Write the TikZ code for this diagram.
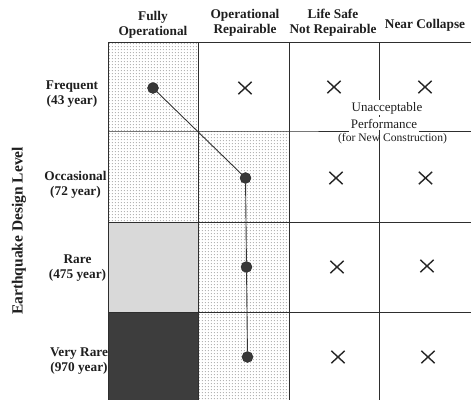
\documentclass[tikz,border=0pt]{standalone}
\usepackage{fontspec}
\setmainfont{Liberation Serif}
\usetikzlibrary{patterns,shapes.misc}
% fine stipple used for the shaded cells
\pgfdeclarepatternformonly{stippledots}{\pgfpointorigin}{\pgfqpoint{3.3pt}{3.3pt}}{\pgfqpoint{3.3pt}{3.3pt}}{%
  \pgfpathcircle{\pgfqpoint{1.65pt}{1.65pt}}{0.7pt}\pgfusepath{fill}}
\tikzset{
  gridline/.style={draw=black!82, line width=0.9pt},
  stipple/.style={fill=white, postaction={pattern=stippledots, pattern color=black!32}},
  lightcell/.style={fill=black!15},
  darkcell/.style={fill=black!76},
  hdr/.style={font=\bfseries\fontsize{13.3}{15}\selectfont, align=center, inner sep=0pt, text=black!88},
  sidelab/.style={font=\bfseries\fontsize{15.5}{17}\selectfont, inner sep=0pt, text=black!88},
  dot/.style={circle, fill=black!78, draw=black!85, minimum size=11pt, inner sep=0pt},
  link/.style={draw=black!80, line width=0.9pt},
  xmark/.style={cross out, draw=black!85, line width=1.4pt, minimum width=12pt, minimum height=11pt, inner sep=0pt},
  note/.style={font=\fontsize{13}{15}\selectfont, inner sep=1.5pt, text=black!88},
  smallnote/.style={font=\fontsize{11.6}{14}\selectfont, inner sep=1pt, text=black!88},
}
\begin{document}
\begin{tikzpicture}[x=1pt,y=-1pt]
\useasboundingbox (0,0) rectangle (471,399);
\clip (0,0) rectangle (471,399);
\fill[white] (0,0) rectangle (471,399);

% shaded cells
\path[stipple] (108,42) rectangle (198.5,222.5);
\path[lightcell] (108,222.5) rectangle (198.5,312.5);
\path[darkcell] (108,312.5) rectangle (198.5,404);
\path[stipple] (198.5,131) rectangle (289,404);

% labels of the unacceptable region
\node[note, anchor=base] (unacc) at (387,111) {Unacceptable};
\node[note, anchor=base] (perf) at (384,128) {Performance};
\node[smallnote, anchor=base] (newc) at (392.5,141.5) {(for New Construction)};

% grid
\coordinate (c3top) at (379.5,42);
\coordinate (c3bot) at (379.5,404);
\coordinate (r1left) at (289,131);
\coordinate (r1right) at (474,131);
\draw[gridline] (108,404) -- (108,42) -- (474,42);
\draw[gridline] (198.5,42) -- (198.5,404);
\draw[gridline] (289,42) -- (289,404);
\draw[gridline] (c3top) -- (c3top |- unacc.north);
\draw[gridline] (c3top |- unacc.south) -- (c3top |- perf.north);
\draw[gridline] (c3bot |- perf.south) -- (c3bot);
\draw[gridline] (108,131) -- (r1left) -- (r1left -| perf.west);
\draw[gridline] (r1right -| perf.east) -- (r1right);
\draw[gridline] (108,222.5) -- (474,222.5);
\draw[gridline] (108,312.5) -- (474,312.5);

% column headings
\node[hdr] (h1) at (153,24.5) {Fully\\Operational};
\node[hdr] (h2) at (245,22.5) {Operational\\Repairable};
\node[hdr] (h3) at (333,22.5) {Life Safe\\Not Repairable};
\node[hdr] (h4) at (425,25) {Near Collapse};

% row headings
\node[hdr] (l1) at (72,94) {Frequent\\(43 year)};
\node[hdr] (l2) at (75.5,184.5) {Occasional\\(72 year)};
\node[hdr] (l3) at (77.5,268.5) {Rare\\(475 year)};
\node[hdr] (l4) at (79,361.5) {Very Rare\\(970 year)};
\node[sidelab, rotate=90] (side) at (19,231) {Earthquake Design Level};

% performance objective
\node[dot] (d1) at (153,88) {};
\node[dot] (d2) at (245.5,178) {};
\node[dot] (d3) at (246.5,267) {};
\node[dot] (d4) at (247.5,357) {};
\draw[link] (d1) -- (d2);
\draw[link] (d2) -- (d3);
\draw[link] (d3) -- (d4);

% unacceptable cells
\node[xmark] (x12) at (245,88) {};
\node[xmark] (x13) at (334,87) {};
\node[xmark] (x14) at (425,87) {};
\node[xmark] (x23) at (336,178) {};
\node[xmark] (x24) at (425.5,178) {};
\node[xmark] (x33) at (337,267) {};
\node[xmark] (x34) at (427,266) {};
\node[xmark] (x43) at (338,357) {};
\node[xmark] (x44) at (428,357) {};
\end{tikzpicture}
\end{document}
